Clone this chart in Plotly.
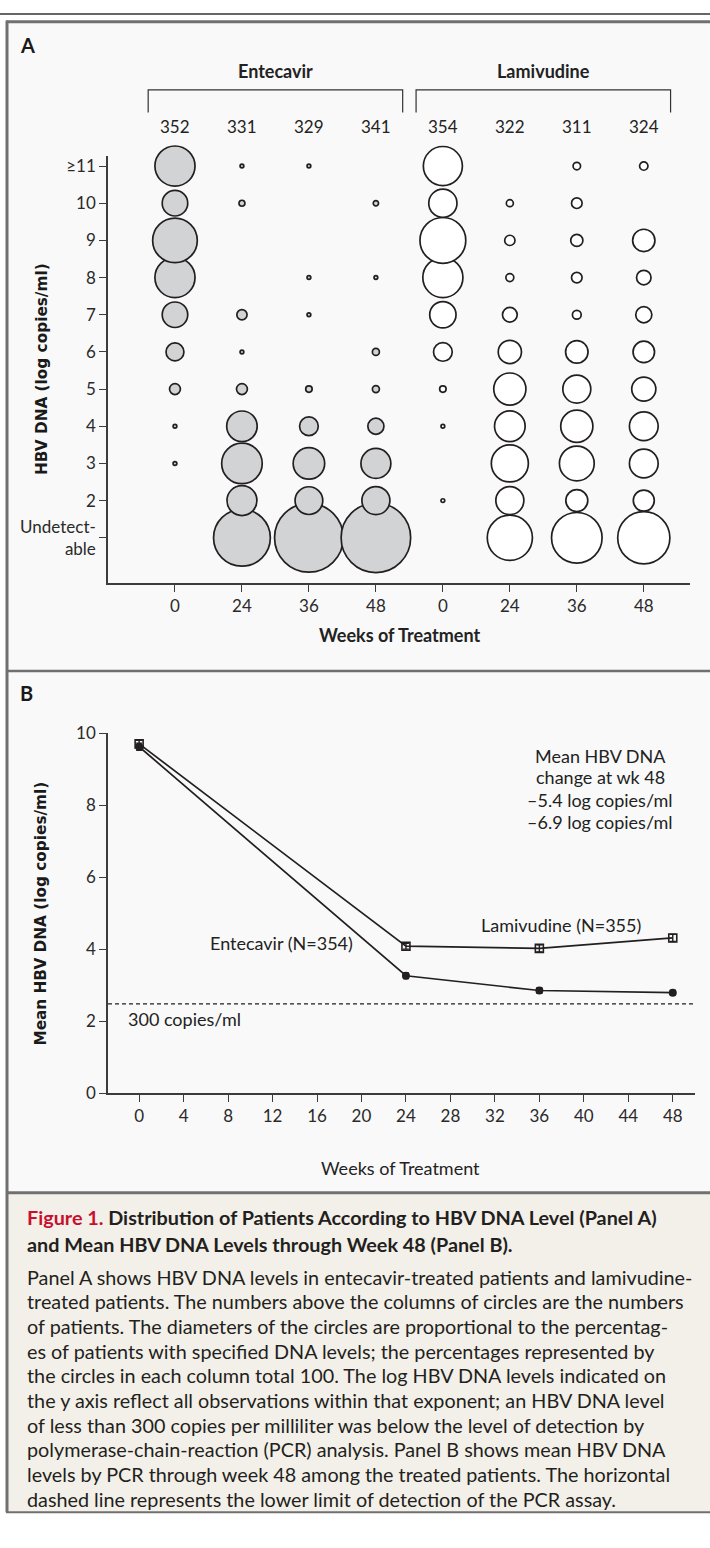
import plotly.graph_objects as go

W, H = 710, 1548

# ---------------- Panel A data ----------------
weeks_a = [0, 24, 36, 48]
groups = ["Entecavir", "Lamivudine"]
n_entecavir = [352, 331, 329, 341]
n_lamivudine = [354, 322, 311, 324]
levels = [1, 2, 3, 4, 5, 6, 7, 8, 9, 10, 11]
level_labels = ["Undetect-<br>able", "2", "3", "4", "5", "6", "7", "8", "9", "10", "≥11"]

# percentage of patients per level (order: Undetectable, 2, 3, ..., 10, >=11)
ent_wk0 = [0, 0, 0.2, 0.2, 1.7, 4.6, 9.3, 23.0, 28.5, 9.3, 23.0]
ent_wk24 = [46.1, 12.8, 23.5, 13.3, 1.7, 0.2, 1.5, 0, 0, 0.5, 0.2]
ent_wk36 = [67.5, 11.0, 14.2, 5.0, 0.6, 0, 0.2, 0.2, 0, 0, 0.2]
ent_wk48 = [69.1, 11.2, 12.8, 3.7, 0.7, 0.7, 0, 0.2, 0, 0.4, 0]
lam_wk0 = [0, 0.2, 0, 0.2, 0.6, 5.0, 9.9, 23.0, 30.0, 11.4, 21.8]
lam_wk24 = [29.1, 11.2, 19.6, 13.4, 14.8, 7.7, 3.1, 0.9, 1.5, 0.7, 0]
lam_wk36 = [36.5, 6.9, 17.3, 14.8, 11.2, 7.2, 1.1, 1.6, 2.1, 1.6, 0.8]
lam_wk48 = [38.9, 6.3, 11.8, 11.8, 8.3, 6.6, 3.7, 3.0, 7.1, 0, 1.0]

# ---------------- Panel B data ----------------
weeks_b = [0, 24, 36, 48]
ent_mean = [9.62, 3.26, 2.85, 2.79]
ent_err = [0.10, 0.08, 0.08, 0.06]
lam_mean = [9.70, 4.08, 4.02, 4.31]
lam_err = [0.10, 0.08, 0.10, 0.10]
lod_log = 2.477  # 300 copies/ml
b_xticks = list(range(0, 49, 4))
b_yticks = [0, 2, 4, 6, 8, 10]

# ---------------- styling helpers ----------------
INK = "#231f20"
AXC = "#3c3c3c"
REG = "Lato, 'Open Sans', sans-serif"
WIDE = "'DejaVu Sans', Verdana, sans-serif"
PANEL_BG = "#f9f9f9"
CAP_BG = "#f3f0e9"
BORDER = "#707070"


def px(xp):
    return xp / W


def py(yp):
    return 1 - yp / H


fig = go.Figure()

# ---- Panel A bubbles ----
AREA_REF = 2.0 / 70.0
ent_cols = [ent_wk0, ent_wk24, ent_wk36, ent_wk48]
lam_cols = [lam_wk0, lam_wk24, lam_wk36, lam_wk48]
for gi, (cols, fill) in enumerate([(ent_cols, "#d2d3d5"), (lam_cols, "#ffffff")]):
    xs, ys, ss = [], [], []
    for wi, col in enumerate(cols):
        for lv, pct in zip(levels, col):
            if pct > 0:
                xs.append(gi * 4 + wi)
                ys.append(lv)
                ss.append(pct)
    fig.add_trace(go.Scatter(
        x=xs, y=ys, mode="markers", xaxis="x", yaxis="y",
        marker=dict(size=ss, sizemode="area", sizeref=AREA_REF, color=fill, opacity=1,
                    line=dict(color=INK, width=1.7)),
        cliponaxis=False, showlegend=False, hoverinfo="skip"))

# ---- Panel B lines ----
fig.add_trace(go.Scatter(
    x=weeks_b, y=lam_mean, mode="lines+markers", xaxis="x2", yaxis="y2",
    line=dict(color=INK, width=1.7),
    marker=dict(symbol="square-open", size=8, color=INK, line=dict(width=1.6)),
    error_y=dict(type="data", array=lam_err, color=INK, thickness=1.4, width=3),
    cliponaxis=False, showlegend=False))
fig.add_trace(go.Scatter(
    x=weeks_b, y=ent_mean, mode="lines+markers", xaxis="x2", yaxis="y2",
    line=dict(color=INK, width=1.7),
    marker=dict(symbol="circle", size=8, color=INK),
    error_y=dict(type="data", array=ent_err, color=INK, thickness=1.4, width=3),
    cliponaxis=False, showlegend=False))

axis_common = dict(showline=True, linecolor=AXC, linewidth=1.5, ticks="outside",
                   ticklen=7, tickwidth=1.3, tickcolor=AXC, showgrid=False,
                   zeroline=False, tickfont=dict(family=REG, size=17, color="#2a2a2a"),
                   fixedrange=True)

fig.update_layout(
    width=W, height=H, margin=dict(l=0, r=0, t=0, b=0),
    paper_bgcolor="#ffffff", plot_bgcolor="rgba(0,0,0,0)",
    xaxis=dict(domain=[px(108), px(690)], anchor="y", range=[-1.0, 7.69],
               tickmode="array", tickvals=list(range(8)),
               ticktext=[str(w) for w in weeks_a] * 2, **axis_common),
    yaxis=dict(domain=[py(580), py(147)], anchor="x", range=[-0.22, 11.27],
               tickmode="array", tickvals=levels, ticktext=level_labels, **axis_common),
    xaxis2=dict(domain=[px(108), px(695)], anchor="y2", range=[-2.8, 50],
                tickmode="array", tickvals=b_xticks, **axis_common),
    yaxis2=dict(domain=[py(1097), py(732)], anchor="x2", range=[0, 10],
                tickmode="array", tickvals=b_yticks, **axis_common),
)

# dashed detection-limit line
fig.add_shape(type="line", xref="x2 domain", yref="y2", x0=0, x1=1, y0=lod_log, y1=lod_log,
              line=dict(color=INK, width=1.2, dash="4px,3px"))

shapes = []
# backgrounds
shapes.append(dict(type="rect", xref="paper", yref="paper", x0=px(7), x1=1, y0=py(1198), y1=py(11),
                   fillcolor=PANEL_BG, line=dict(width=0), layer="below"))
shapes.append(dict(type="rect", xref="paper", yref="paper", x0=px(7), x1=1, y0=py(1522), y1=py(1198),
                   fillcolor=CAP_BG, line=dict(width=0), layer="below"))
# frame lines
shapes.append(dict(type="line", xref="paper", yref="paper", x0=0, x1=1, y0=py(3), y1=py(3),
                   line=dict(color="#333333", width=1.5)))
for yy, wd in [(11, 3), (669, 2.5), (1198, 3), (1522, 2)]:
    shapes.append(dict(type="line", xref="paper", yref="paper", x0=px(6), x1=1, y0=py(yy), y1=py(yy),
                       line=dict(color=BORDER, width=wd)))
shapes.append(dict(type="line", xref="paper", yref="paper", x0=px(7), x1=px(7), y0=py(1522), y1=py(10),
                   line=dict(color=BORDER, width=3)))
# group brackets (panel A)
for g in range(2):
    x0 = g * 4 - 0.4
    x1 = g * 4 + 3.4
    shapes.append(dict(type="path", xref="x", yref="paper",
                       path=f"M {x0},{py(103)} L {x0},{py(80)} L {x1},{py(80)} L {x1},{py(103)}",
                       line=dict(color="#333333", width=1.2)))
for s in shapes:
    fig.add_shape(**s)

ann = []


def txt(x, y, text, size=16, family=REG, color="#222222", xanchor="center", xref="paper", bold=False):
    t = f"<b>{text}</b>" if bold else text
    ann.append(dict(x=x, y=y, xref=xref, yref="paper", text=t, showarrow=False,
                    xanchor=xanchor, yanchor="middle",
                    font=dict(family=family, size=size, color=color)))


# panel letters
txt(px(18), py(34), "A", size=20, bold=True, xanchor="left", color="#1a1a1a")
txt(px(18), py(691), "B", size=20, bold=True, xanchor="left", color="#1a1a1a")
# group names and counts
for g, name in enumerate(groups):
    txt(g * 4 + 1.5, py(61), name, size=18, bold=True, xref="x")
for i, n in enumerate(n_entecavir + n_lamivudine):
    txt(i, py(117), str(n), size=17, xref="x")
# panel A titles
txt(px(399), py(633), "Weeks of Treatment", size=18, bold=True)
ann.append(dict(x=px(42), y=py(363), xref="paper", yref="paper", text="<b>HBV DNA (log copies/ml)</b>",
                textangle=-90, showarrow=False, xanchor="center", yanchor="middle",
                font=dict(family=WIDE, size=15.3, color="#1a1a1a")))
# panel B titles
txt(px(400), py(1173), "Weeks of Treatment", size=18)
ann.append(dict(x=px(41), y=py(915), xref="paper", yref="paper", text="<b>Mean HBV DNA (log copies/ml)</b>",
                textangle=-90, showarrow=False, xanchor="center", yanchor="middle",
                font=dict(family=WIDE, size=15.3, color="#1a1a1a")))
for yy, line in zip([755, 777, 800, 822],
                    ["Mean HBV DNA", "change at wk 48", "–5.4 log copies/ml", "–6.9 log copies/ml"]):
    txt(px(600), py(yy), line, size=18)
txt(px(561), py(927), "Lamivudine (N=355)", size=18)
txt(px(281), py(945), "Entecavir (N=354)", size=18)
txt(px(126), py(1022), "300 copies/ml", size=18, xanchor="left")

# caption
title_lines = [
    "<span style='color:#c8102e'>Figure 1.</span> Distribution of Patients According to HBV DNA Level (Panel A)",
    "and Mean HBV DNA Levels through Week 48 (Panel B).",
]
body_lines = [
    "Panel A shows HBV DNA levels in entecavir-treated patients and lamivudine-",
    "treated patients. The numbers above the columns of circles are the numbers",
    "of patients. The diameters of the circles are proportional to the percentag-",
    "es of patients with specified DNA levels; the percentages represented by",
    "the circles in each column total 100. The log HBV DNA levels indicated on",
    "the y axis reflect all observations within that exponent; an HBV DNA level",
    "of less than 300 copies per milliliter was below the level of detection by",
    "polymerase-chain-reaction (PCR) analysis. Panel B shows mean HBV DNA",
    "levels by PCR through week 48 among the treated patients. The horizontal",
    "dashed line represents the lower limit of detection of the PCR assay.",
]
for i, line in enumerate(title_lines):
    txt(px(25), py(1223 + 27 * i), line, size=19.8, bold=True, xanchor="left", color="#231f20")
for i, line in enumerate(body_lines):
    txt(px(25), py(1283 + 25 * i), line, size=19.8, xanchor="left", color="#231f20")

fig.update_layout(annotations=ann)
fig.write_html("out.html", config={"displayModeBar": False},
               post_script="document.body.style.margin='0px';")
